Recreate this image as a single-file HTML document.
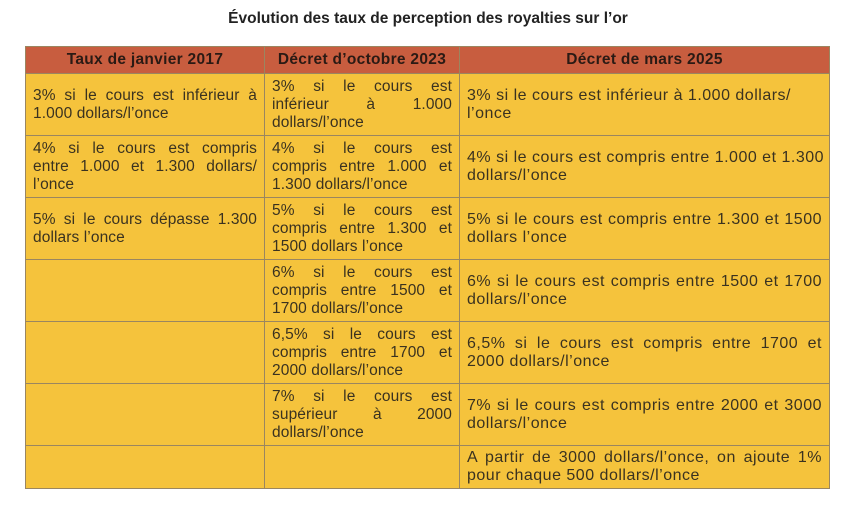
<!DOCTYPE html>
<html><head><meta charset="utf-8"><style>
body{margin:0;width:868px;height:525px;background:#fff;font-family:"Liberation Sans",sans-serif;position:relative;overflow:hidden}
.title{position:absolute;left:0;width:856px;top:10px;text-align:center;font-weight:bold;font-size:15.5px;color:#222}
table{position:absolute;left:25px;top:46px;width:804px;border-collapse:collapse;table-layout:fixed}
td,th{border:1px solid #9a8660;padding:0 7px;vertical-align:middle;color:#3a3220;font-size:15.5px;line-height:18px;font-weight:normal;letter-spacing:0.1px;white-space:nowrap;overflow:hidden}
td.c3{letter-spacing:0.5px;font-size:16px}
th{background:#c85d3f;height:26px;font-weight:bold;color:#2a1a14;font-size:15.5px;letter-spacing:0.3px;text-align:center}
td{background:#f5c33c}
.j{text-align:justify;text-align-last:justify}
.l{text-align:left}
</style></head><body>
<div class="title">Évolution des taux de perception des royalties sur l’or</div>
<table>
<colgroup><col style="width:239px"><col style="width:195px"><col style="width:370px"></colgroup>
<tr><th>Taux de janvier 2017</th><th>Décret d’octobre 2023</th><th>Décret de mars 2025</th></tr>
<tr style="height:62px"><td><div class="j">3% si le cours est inférieur à</div><div class="l">1.000 dollars/l’once</div></td>
<td><div class="j">3% si le cours est</div><div class="j">inférieur à 1.000</div><div class="l">dollars/l’once</div></td>
<td class="c3"><div class="l">3% si le cours est inférieur à 1.000 dollars/</div><div class="l">l’once</div></td></tr>
<tr style="height:62px"><td><div class="j">4% si le cours est compris</div><div class="j">entre 1.000 et 1.300 dollars/</div><div class="l">l’once</div></td>
<td><div class="j">4% si le cours est</div><div class="j">compris entre 1.000 et</div><div class="l">1.300 dollars/l’once</div></td>
<td class="c3"><div class="l">4% si le cours est compris entre 1.000 et 1.300</div><div class="l">dollars/l’once</div></td></tr>
<tr style="height:62px"><td><div class="j">5% si le cours dépasse 1.300</div><div class="l">dollars l’once</div></td>
<td><div class="j">5% si le cours est</div><div class="j">compris entre 1.300 et</div><div class="l">1500 dollars l’once</div></td>
<td class="c3"><div class="j">5% si le cours est compris entre 1.300 et 1500</div><div class="l">dollars l’once</div></td></tr>
<tr style="height:62px"><td></td>
<td><div class="j">6% si le cours est</div><div class="j">compris entre 1500 et</div><div class="l">1700 dollars/l’once</div></td>
<td class="c3"><div class="j">6% si le cours est compris entre 1500 et 1700</div><div class="l">dollars/l’once</div></td></tr>
<tr style="height:62px"><td></td>
<td><div class="j">6,5% si le cours est</div><div class="j">compris entre 1700 et</div><div class="l">2000 dollars/l’once</div></td>
<td class="c3"><div class="j">6,5% si le cours est compris entre 1700 et</div><div class="l">2000 dollars/l’once</div></td></tr>
<tr style="height:62px"><td></td>
<td><div class="j">7% si le cours est</div><div class="j">supérieur à 2000</div><div class="l">dollars/l’once</div></td>
<td class="c3"><div class="j">7% si le cours est compris entre 2000 et 3000</div><div class="l">dollars/l’once</div></td></tr>
<tr style="height:43px"><td></td><td></td>
<td class="c3"><div class="j">A partir de 3000 dollars/l’once, on ajoute 1%</div><div class="l">pour chaque 500 dollars/l’once</div></td></tr>
</table>
</body></html>
